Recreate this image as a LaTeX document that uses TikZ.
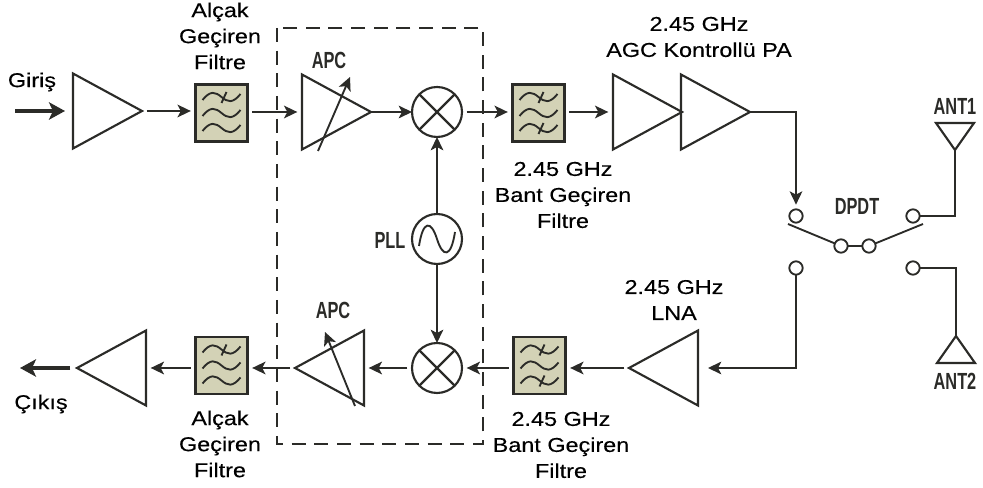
\documentclass[tikz,border=0pt]{standalone}
\usepackage{fontspec}
\setmainfont[FakeStretch=1.17,FakeBold=0.25]{Liberation Sans}
\newfontfamily\narrowfont[FakeStretch=0.7]{Liberation Sans}
\usepackage{xcolor}
\usepackage{tikz}
\usetikzlibrary{arrows.meta,positioning,shapes.geometric}
\definecolor{filterfill}{HTML}{D3D2B6}
\definecolor{inkdark}{HTML}{2B2B28}
\tikzset{
  ampbox/.style={draw=inkdark,line width=1.6pt,isosceles triangle,isosceles triangle stretches=true,
    minimum height=51.75pt,minimum width=56.25pt,inner sep=0pt,outer sep=0pt,anchor=apex},
  antbox/.style={draw=inkdark,line width=1.6pt,isosceles triangle,isosceles triangle stretches=true,
    minimum height=20.25pt,minimum width=28.5pt,inner sep=0pt,outer sep=0pt,anchor=apex},
  filterbox/.style={draw=inkdark,line width=1.8pt,fill=filterfill,minimum width=39pt,minimum height=42.5pt,
    inner sep=0pt,outer sep=0pt},
  mixbox/.style={draw=inkdark,line width=1.6pt,circle,minimum size=37.5pt,inner sep=0pt,outer sep=0pt},
  termbox/.style={draw=inkdark,line width=1.4pt,circle,fill=white,minimum size=10pt,inner sep=0pt,outer sep=0pt},
  textlabel/.style={font=\fontsize{15}{19.5}\selectfont,align=center,text=black,inner sep=0pt},
  narrowlabel/.style={font=\narrowfont\bfseries\fontsize{17.5}{20}\selectfont,text=inkdark,inner sep=0pt},
  sigarrow/.style={-{Stealth[length=10pt,width=9.5pt,inset=2.5pt]},draw=inkdark,line width=1.4pt,
    shorten >=3.5pt,shorten <=3.5pt},
  fatarrow/.style={-{Stealth[length=12pt,width=13pt,inset=3pt]},draw=inkdark,line width=3pt},
  wireline/.style={draw=inkdark,line width=1.4pt},
  lowwaves/.pic={
    \foreach \yy in {-16,0,15}
      \draw[draw=inkdark,line width=1.4pt] (-19,\yy+3) .. controls (-11,\yy-7) and (-6,\yy-5) .. (0,\yy)
        .. controls (6,\yy+5) and (11,\yy+7) .. (19,\yy-3);
    \draw[draw=inkdark,line width=1.4pt] (0,-10) -- (5,-21);
  },
  bandwaves/.pic={
    \foreach \yy in {-16,0,15}
      \draw[draw=inkdark,line width=1.4pt] (-19,\yy+3) .. controls (-11,\yy-7) and (-6,\yy-5) .. (0,\yy)
        .. controls (6,\yy+5) and (11,\yy+7) .. (19,\yy-3);
    \draw[draw=inkdark,line width=1.4pt] (0,-10) -- (5,-21);
    \draw[draw=inkdark,line width=1.4pt] (0,21) -- (5,10);
  }
}
\begin{document}
\begin{tikzpicture}[x=0.75pt,y=-0.75pt]
  \useasboundingbox (0,0) rectangle (983,488);
  % dashed transceiver block
  \draw[draw=inkdark,line width=1.6pt,dash pattern=on 10.5pt off 6.5pt] (277,28) rectangle (483,444);

  % upper chain
  \node[ampbox] (ampIn) at (142,111) {};
  \node[filterbox] (filtLowA) at (221.5,113) {};
  \pic at (221.5,113) {lowwaves};
  \node[ampbox] (apcTx) at (371,112) {};
  \node[mixbox] (mixTx) at (437,112) {};
  \node[filterbox] (filtBandA) at (538.5,113) {};
  \pic at (538.5,113) {bandwaves};
  \node[ampbox] (paOne) at (682,112) {};
  \node[ampbox] (paTwo) at (750,112) {};

  % lower chain
  \node[ampbox,shape border rotate=180] (ampOut) at (77,368) {};
  \node[filterbox] (filtLowB) at (221.5,365.5) {};
  \pic at (221.5,365.5) {lowwaves};
  \node[ampbox,shape border rotate=180] (apcRx) at (295,368) {};
  \node[mixbox] (mixRx) at (437,368) {};
  \node[filterbox] (filtBandB) at (539.5,365.5) {};
  \pic at (539.5,365.5) {bandwaves};
  \node[ampbox,shape border rotate=180] (lnaAmp) at (629,368) {};

  % oscillator
  \node[mixbox] (pllOsc) at (437,239) {};
  \draw[draw=inkdark,line width=1.4pt] (419,246) .. controls (423,220) and (431,220) .. (437,239)
    .. controls (443,258) and (451,258) .. (455,232);
  \foreach \mixname in {mixTx,mixRx}{
    \draw[wireline,line width=1.6pt] (\mixname.45) -- (\mixname.225);
    \draw[wireline,line width=1.6pt] (\mixname.135) -- (\mixname.315);
  }

  % switch
  \node[termbox] (termTL) at (796,216) {};
  \node[termbox] (termTR) at (913,216) {};
  \node[termbox] (termML) at (841,246) {};
  \node[termbox] (termMR) at (869,246) {};
  \node[termbox] (termBL) at (796,268) {};
  \node[termbox] (termBR) at (913,268) {};
  \coordinate (swLeft) at (788,224);
  \coordinate (swRight) at (923,224);
  \draw[wireline] (swLeft) -- (termML) (termML) -- (termMR) (termMR) -- (swRight);

  % antennas
  \node[antbox,shape border rotate=270] (antOne) at (955,150) {};
  \node[antbox,shape border rotate=90] (antTwo) at (956,336) {};

  % connectors
  \coordinate (inStart) at (15,111);
  \coordinate (outEnd) at (20,368);
  \draw[fatarrow,shorten >=6pt] (inStart) -- (ampIn.lower side);
  \draw[fatarrow,shorten <=5pt] (ampOut.lower side -| ampOut.apex) -- (outEnd);
  \draw[sigarrow] (ampIn.apex) -- (filtLowA.west |- ampIn.apex);
  \draw[sigarrow] (filtLowA.east |- apcTx.lower side) -- (apcTx.lower side);
  \draw[sigarrow,shorten <=0pt,shorten >=0pt] (apcTx.apex) -- (mixTx.west);
  \draw[sigarrow] (mixTx.east) -- (filtBandA.west |- mixTx.east);
  \draw[sigarrow] (filtBandA.east |- paOne.lower side) -- (paOne.lower side);
  \draw[sigarrow,shorten <=0pt] (paTwo.apex) -| (termTL.north);
  \draw[wireline] (termTR.east) -| (antOne.apex);
  \draw[wireline] (termBR.east) -| (antTwo.apex);
  \draw[sigarrow,shorten <=0pt,shorten >=7.5pt] (termBL.south) |- (lnaAmp.lower side);
  \draw[sigarrow] (lnaAmp.apex) -- (filtBandB.east |- lnaAmp.apex);
  \draw[sigarrow] (filtBandB.west |- mixRx.east) -- (mixRx.east);
  \draw[sigarrow] (mixRx.west) -- (apcRx.lower side);
  \draw[sigarrow] (apcRx.apex) -- (filtLowB.east |- apcRx.apex);
  \draw[sigarrow] (filtLowB.west |- ampOut.lower side) -- (ampOut.lower side);
  \draw[sigarrow,shorten <=0pt,shorten >=0pt] (pllOsc.north) -- (mixTx.south);
  \draw[sigarrow,shorten <=0pt,shorten >=0pt] (pllOsc.south) -- (mixRx.north);

  % gain control arrows
  \coordinate (apcTxTail) at (318,151);
  \coordinate (apcTxHead) at (350,77);
  \coordinate (apcRxTail) at (355,406);
  \coordinate (apcRxHead) at (325,332);
  \draw[sigarrow,shorten <=0pt,shorten >=0pt] (apcTxTail) -- (apcTxHead);
  \draw[sigarrow,shorten <=0pt,shorten >=0pt] (apcRxTail) -- (apcRxHead);

  % labels
  \node[textlabel] (lblIn) at (32,82) {Giriş};
  \node[textlabel] (lblOut) at (41,404) {Çıkış};
  \node[textlabel] (lblLowA) at (220,36) {Alçak\\Geçiren\\Filtre};
  \node[textlabel] (lblLowB) at (220,444) {Alçak\\Geçiren\\Filtre};
  \node[textlabel] (lblBandA) at (563,195) {2.45 GHz\\Bant Geçiren\\Filtre};
  \node[textlabel] (lblBandB) at (561,445) {2.45 GHz\\Bant Geçiren\\Filtre};
  \node[textlabel] (lblPa) at (699,37) {2.45 GHz\\AGC Kontrollü PA};
  \node[textlabel] (lblLna) at (674,300) {2.45 GHz\\LNA};
  \node[narrowlabel] (lblApcA) at (329,60) {APC};
  \node[narrowlabel] (lblApcB) at (333,310) {APC};
  \node[narrowlabel] (lblPll) at (390,240) {PLL};
  \node[narrowlabel] (lblDpdt) at (857,206) {DPDT};
  \node[narrowlabel] (lblAntA) at (955,106) {ANT1};
  \node[narrowlabel] (lblAntB) at (955,381) {ANT2};
\end{tikzpicture}
\end{document}
